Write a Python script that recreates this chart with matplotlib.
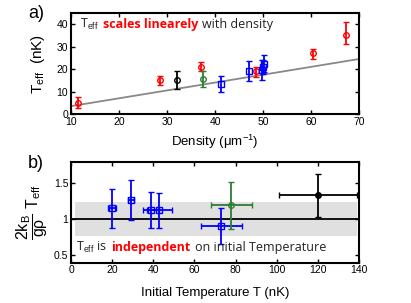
import matplotlib.pyplot as plt
import numpy as np

# panel a: T_eff vs density
red_n = [11.5, 28.5, 37.0, 48.5, 60.5, 67.2]
red_T = [5.0, 15.0, 21.0, 19.0, 27.0, 35.0]
red_err_lo = [2.5, 2.0, 2.0, 2.5, 2.5, 4.0]
red_err_hi = [2.5, 2.0, 2.0, 2.0, 2.0, 6.0]
blk_n = [32.0]
blk_T = [15.0]
blk_err = [4.0]
grn_n = [37.5]
grn_T = [15.5]
grn_err = [3.5]
blu_n = [41.2, 47.0, 49.7, 49.9, 50.2]
blu_T = [13.5, 19.0, 19.5, 21.0, 22.5]
blu_err = [3.5, 4.5, 4.5, 3.0, 4.0]
fit_slope = 0.35

# panel b: normalised T_eff vs initial temperature
b_blu_T0 = [20, 29, 39, 43, 73]
b_blu_y = [1.15, 1.27, 1.13, 1.12, 0.90]
b_blu_xerr = [2, 1.5, 4, 6, 10]
b_blu_yerr = [0.27, 0.28, 0.25, 0.24, 0.25]
b_grn_T0 = [78]
b_grn_y = [1.19]
b_grn_xerr = [10]
b_grn_yerr = [0.33]
b_blk_T0 = [120]
b_blk_y = [1.33]
b_blk_xerr = [19]
b_blk_yerr = [0.30]
band = (0.76, 1.24)

plt.rcParams['font.family'] = ['Liberation Sans', 'DejaVu Sans']
plt.rcParams['mathtext.fontset'] = 'custom'
plt.rcParams['mathtext.rm'] = 'Liberation Sans'
plt.rcParams['mathtext.it'] = 'Liberation Sans:italic'

fig = plt.figure(figsize=(4.11, 3.03), dpi=100)
ax1 = fig.add_axes([71/411, 1 - 114/303, 288/411, 101/303])
ax2 = fig.add_axes([71/411, 1 - 262.7/303, 288/411, 101/303])

green = '#2e7d32'
kw = dict(capsize=2.5, elinewidth=1.3, capthick=1.3, markersize=4,
          markerfacecolor='none', markeredgewidth=1.0, linestyle='none')
note = dict(fontsize=9, family=['Open Sans', 'DejaVu Sans'], va='center')


def chain(ax, parts, xy):
    # place text pieces one after another, each starting where the last ended
    prev = None
    for s, col, wt in parts:
        if prev is None:
            prev = ax.text(xy[0], xy[1], s, color=col, fontweight=wt, **note)
        else:
            prev = ax.annotate(s, xy=(1, 0.5), xycoords=prev, xytext=(3, 0),
                               textcoords='offset points', color=col, fontweight=wt, **note)


# panel a
xs = np.array([10, 70])
ax1.plot(xs, fit_slope * xs, color='#888888', lw=1.3, zorder=1)
ax1.errorbar(red_n, red_T, yerr=[red_err_lo, red_err_hi], color='red', marker='o', **kw)
ax1.errorbar(blk_n, blk_T, yerr=blk_err, color='black', marker='o', **kw)
ax1.errorbar(grn_n, grn_T, yerr=grn_err, color=green, marker='o', **kw)
ax1.errorbar(blu_n, blu_T, yerr=blu_err, color='blue', marker='s', **kw)
ax1.set_xlim(10, 70)
ax1.set_ylim(0, 45)
ax1.set_xticks([10, 20, 30, 40, 50, 60, 70])
ax1.set_yticks([0, 10, 20, 30, 40])
ax1.set_xlabel('Density (μm$^{-1}$)', fontsize=9.5, labelpad=4)
ax1.set_ylabel('T$_{\\rm eff}$  (nK)', fontsize=11, labelpad=7)
chain(ax1, [('T$_{\\rm eff}$', '#222222', 'normal'),
            ('scales linearely', 'red', 'bold'),
            ('with density', '#222222', 'normal')], (11.8, 40))

# panel b
ax2.axhspan(band[0], band[1], xmin=2/140, xmax=139/140, color='#e0e0e0', lw=0, zorder=0)
ax2.axhline(1.0, color='black', lw=1.3, zorder=1)
kw2 = dict(kw, capsize=2)
ax2.errorbar(b_blu_T0, b_blu_y, xerr=b_blu_xerr, yerr=b_blu_yerr, color='blue', marker='s', **kw2)
ax2.errorbar(b_grn_T0, b_grn_y, xerr=b_grn_xerr, yerr=b_grn_yerr, color=green, marker='o', **kw2)
ax2.errorbar(b_blk_T0, b_blk_y, xerr=b_blk_xerr, yerr=b_blk_yerr, color='black', marker='o',
             **dict(kw2, markerfacecolor='black'))
ax2.set_xlim(0, 140)
ax2.set_ylim(0.39, 1.8)
ax2.set_xticks([0, 20, 40, 60, 80, 100, 120, 140])
ax2.set_yticks([0.5, 1, 1.5])
ax2.set_yticklabels(['0.5', '1', '1.5'])
ax2.set_xlabel('Initial Temperature T (nK)', fontsize=9.5, labelpad=8)
ax2.set_ylabel(r'$\dfrac{2\mathrm{k_B}}{\mathrm{g\rho}}$ T$_{\rm eff}$', fontsize=11.5, labelpad=3)
chain(ax2, [('T$_{\\rm eff}$ is', '#222222', 'normal'),
            ('independent', 'red', 'bold'),
            ('on initial Temperature', '#222222', 'normal')], (2.5, 0.6))

for ax in (ax1, ax2):
    ax.tick_params(direction='in', top=True, right=True, labelsize=7.5, length=3, width=1, pad=2)
    for s in ax.spines.values():
        s.set_linewidth(1.5)

fig.text(28/411, 1 - 14/303, 'a)', fontsize=13, va='center')
fig.text(28/411, 1 - 163/303, 'b)', fontsize=13, va='center')

fig.savefig('out.png', dpi=100)
